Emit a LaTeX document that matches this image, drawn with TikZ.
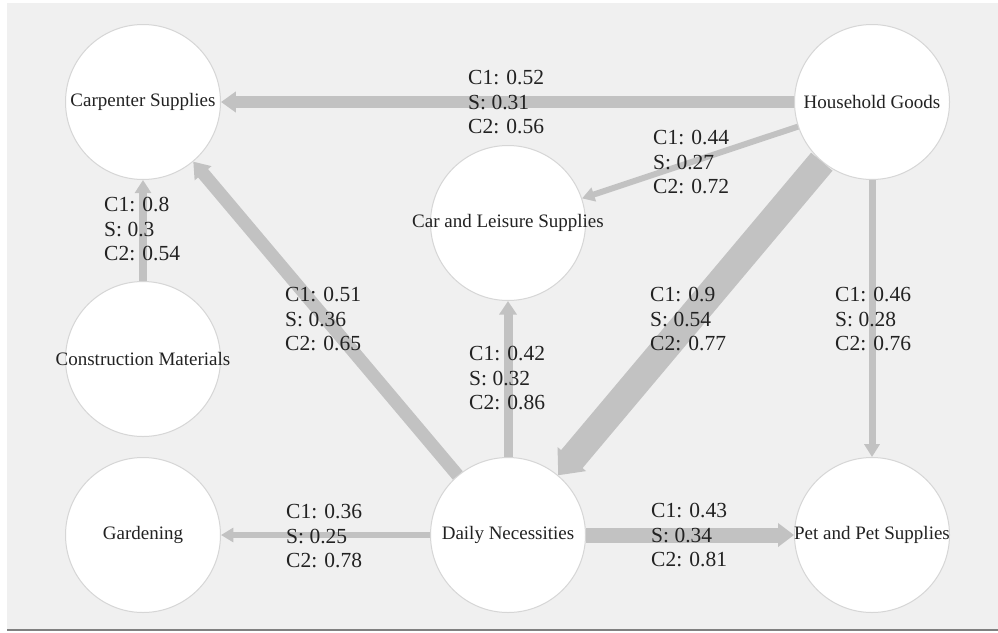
\documentclass[tikz,border=0pt]{standalone}
\usepackage{fontspec}
\setmainfont{Liberation Serif}
\usetikzlibrary{arrows.meta}
\definecolor{bg}{HTML}{F0F0F0}
\definecolor{edgegray}{HTML}{C2C2C2}
\definecolor{rimgray}{HTML}{D6D6D6}
\definecolor{txt}{HTML}{222222}
\begin{document}
\begin{tikzpicture}[x=1pt,y=-1pt,
  cat/.style={circle, draw=rimgray, line width=1pt, fill=white, minimum size=155pt, inner sep=0pt,
    label={[text=txt, font=\fontsize{19}{22}\selectfont]center:#1}},
  val/.style={anchor=west, align=left, inner sep=0pt, text=txt, font=\fontsize{21.5}{24.5}\selectfont},
  flow/.style={draw=edgegray, line width=#1, -{Triangle[length=10pt 0.4, width=8pt 1]}}]
\useasboundingbox (0,0) rectangle (998,632);
\fill[bg] (7,3) rectangle (998,630);
\draw[gray, line width=2pt] (7,630) -- (998,630);

\node[cat={Carpenter Supplies}] (carp) at (143,102) {};
\node[cat={Household Goods}] (hh) at (872,102) {};
\node[cat={Car and Leisure Supplies}] (car) at (508,223) {};
\node[cat={Construction Materials}] (cons) at (143,359) {};
\node[cat={Gardening}] (gard) at (143,535) {};
\node[cat={Daily Necessities}] (daily) at (508,535) {};
\node[cat={Pet and Pet Supplies}] (pet) at (872,535) {};

\draw[flow=12pt] (hh) -- (carp);
\draw[flow=6pt] (hh) -- (car);
\draw[flow=28pt] (hh) -- (daily);
\draw[flow=7pt] (hh) -- (pet);
\draw[flow=8pt] (cons) -- (carp);
\draw[flow=13pt] (daily) -- (carp);
\draw[flow=9pt] (daily) -- (car);
\draw[flow=6pt] (daily) -- (gard);
\draw[flow=15pt] (daily) -- (pet);

\node[val] (l1) at (468,102) {C1: 0.52\\S: 0.31\\C2: 0.56};
\node[val] (l2) at (653,162) {C1: 0.44\\S: 0.27\\C2: 0.72};
\node[val] (l3) at (104,229) {C1: 0.8\\S: 0.3\\C2: 0.54};
\node[val] (l4) at (285,319) {C1: 0.51\\S: 0.36\\C2: 0.65};
\node[val] (l5) at (469,378) {C1: 0.42\\S: 0.32\\C2: 0.86};
\node[val] (l6) at (650,319) {C1: 0.9\\S: 0.54\\C2: 0.77};
\node[val] (l7) at (835,319) {C1: 0.46\\S: 0.28\\C2: 0.76};
\node[val] (l8) at (286,536) {C1: 0.36\\S: 0.25\\C2: 0.78};
\node[val] (l9) at (651,535) {C1: 0.43\\S: 0.34\\C2: 0.81};
\end{tikzpicture}
\end{document}
